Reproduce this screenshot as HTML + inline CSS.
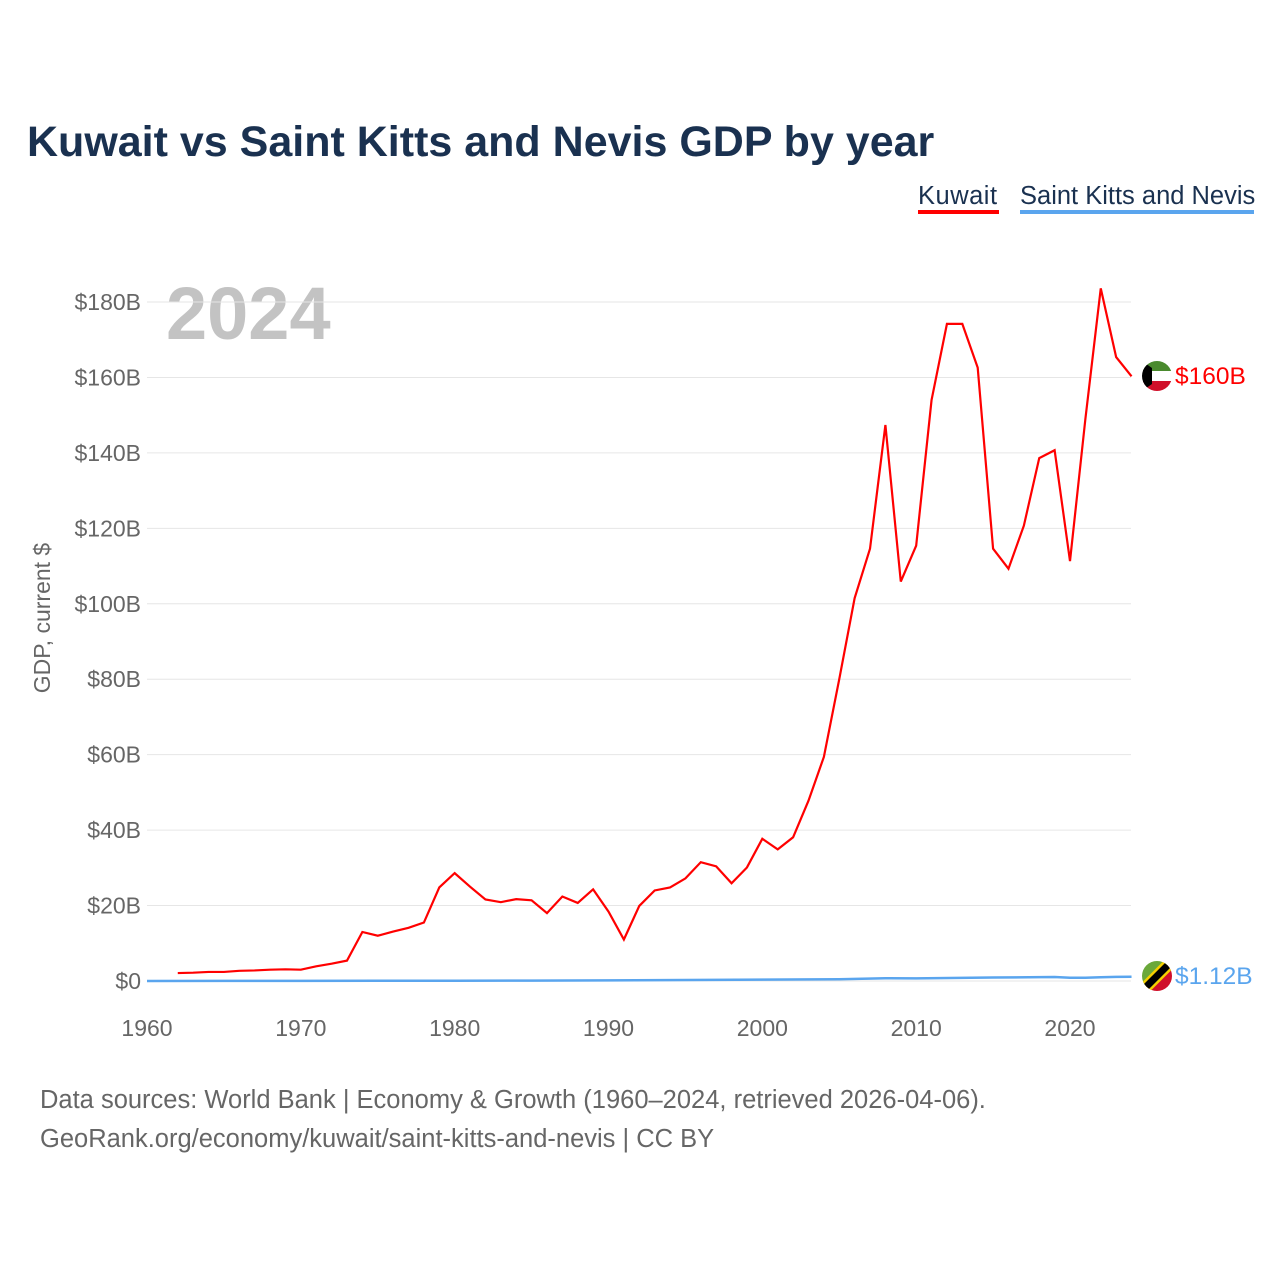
<!DOCTYPE html>
<html><head><meta charset="utf-8"><style>
body{margin:0;background:#fff;font-family:"Liberation Sans",sans-serif}
</style></head><body>
<svg width="1280" height="1280" viewBox="0 0 1280 1280" xmlns="http://www.w3.org/2000/svg">
<rect width="1280" height="1280" fill="#fff"/>
<text x="27" y="156" font-size="43" font-weight="bold" fill="#1a3150">Kuwait vs Saint Kitts and Nevis GDP by year</text>
<g>
<text x="918" y="204" font-size="25.5" fill="#1a3150" letter-spacing="0.5">Kuwait</text>
<rect x="918" y="210" width="81" height="4" fill="#ff0000"/>
<text x="1020" y="204" font-size="25.5" fill="#1a3150">Saint Kitts and Nevis</text>
<rect x="1020" y="210" width="234" height="4" fill="#5aa5ee"/>
</g>
<text x="166" y="339" font-size="74" font-weight="bold" fill="#c3c3c3">2024</text>
<text transform="translate(50,618) rotate(-90)" text-anchor="middle" font-size="23" fill="#666">GDP, current $</text>
<g id="grid"></g><g id="ticks"></g><g id="lines"></g>
<g>
<clipPath id="c1"><circle cx="1157" cy="376" r="15"/></clipPath>
<g clip-path="url(#c1)"><rect x="1142" y="361" width="30" height="10" fill="#4a8a2e"/><rect x="1142" y="371" width="30" height="10" fill="#fff"/><rect x="1142" y="381" width="30" height="10" fill="#d0102a"/><polygon points="1142,361 1152,368 1152,384 1142,391" fill="#000"/></g>
</g>
<text x="1175" y="384" font-size="24.5" fill="#ff0000">$160B</text>
<g>
<clipPath id="c2"><circle cx="1157" cy="976" r="15"/></clipPath>
<g clip-path="url(#c2)"><polygon points="1142,961 1172,961 1142,991" fill="#6aa83a"/><polygon points="1172,961 1172,991 1142,991" fill="#d0102a"/><line x1="1142" y1="991" x2="1172" y2="961" stroke="#f5d000" stroke-width="12"/><line x1="1142" y1="991" x2="1172" y2="961" stroke="#000" stroke-width="7"/></g>
</g>
<text x="1175" y="984" font-size="24.5" fill="#5aa5ee">$1.12B</text>
<text x="40" y="1108" font-size="25.5" fill="#666">Data sources: World Bank | Economy &amp; Growth (1960–2024, retrieved 2026-04-06).</text>
<text x="40" y="1147" font-size="25.5" fill="#666">GeoRank.org/economy/kuwait/saint-kitts-and-nevis | CC BY</text>
</svg>
<script>
const kwYears=[1962,1963,1964,1965,1966,1967,1968,1969,1970,1971,1972,1973,1974,1975,1976,1977,1978,1979,1980,1981,1982,1983,1984,1985,1986,1987,1988,1989,1990,1991,1992,1993,1994,1995,1996,1997,1998,1999,2000,2001,2002,2003,2004,2005,2006,2007,2008,2009,2010,2011,2012,2013,2014,2015,2016,2017,2018,2019,2020,2021,2022,2023,2024];
const kwValues=[2.1,2.2,2.4,2.4,2.7,2.8,3.0,3.1,3.0,3.9,4.6,5.4,13.0,12.0,13.1,14.1,15.5,24.8,28.6,25.0,21.6,20.9,21.7,21.4,18.0,22.4,20.7,24.3,18.4,11.0,19.9,24.0,24.8,27.2,31.5,30.4,25.9,30.1,37.7,34.9,38.1,47.8,59.4,80.0,101.5,114.6,147.4,105.9,115.4,154.0,174.2,174.2,162.6,114.6,109.3,120.7,138.6,140.7,111.3,149.0,183.6,165.4,160.3];
const sknYears=[1960,1965,1970,1975,1980,1985,1990,1995,2000,2005,2008,2010,2015,2019,2020,2021,2022,2023,2024];
const sknValues=[0.01,0.02,0.02,0.05,0.06,0.1,0.16,0.27,0.36,0.48,0.72,0.71,0.92,1.06,0.85,0.86,0.99,1.08,1.12];
const yTicks=[0,20,40,60,80,100,120,140,160,180];
const yTickLabels=["$0","$20B","$40B","$60B","$80B","$100B","$120B","$140B","$160B","$180B"];
const xTicks=[1960,1970,1980,1990,2000,2010,2020];
const NS="http://www.w3.org/2000/svg";
const xs=y=>147+(y-1960)*(923/60);
const ys=v=>981-v*(679/180);
function mk(tag,attrs,parent){const e=document.createElementNS(NS,tag);for(const k in attrs)e.setAttribute(k,attrs[k]);document.getElementById(parent).appendChild(e);return e;}
yTicks.forEach((t,i)=>{
  const l=mk('line',{x1:147,x2:1131,y1:ys(t),y2:ys(t),stroke:'#e6e6e6','stroke-width':1},'grid');
  
  
  const tx=mk('text',{x:141,y:ys(t)+8,'text-anchor':'end','font-size':23,fill:'#666'},'ticks');
  tx.textContent=yTickLabels[i];
  
  
});
xTicks.forEach(t=>{
  const tx=mk('text',{x:xs(t),y:1036,'text-anchor':'middle','font-size':23,fill:'#666'},'ticks');
  tx.textContent=t;
  
  
});
const sp=mk('polyline',{points:sknYears.map((y,i)=>xs(y)+','+ys(sknValues[i])).join(' '),fill:'none',stroke:'#5aa5ee','stroke-width':2.5},'lines');


const kp=mk('polyline',{points:kwYears.map((y,i)=>xs(y)+','+ys(kwValues[i])).join(' '),fill:'none',stroke:'#ff0000','stroke-width':2.2},'lines');


</script>
</body></html>
